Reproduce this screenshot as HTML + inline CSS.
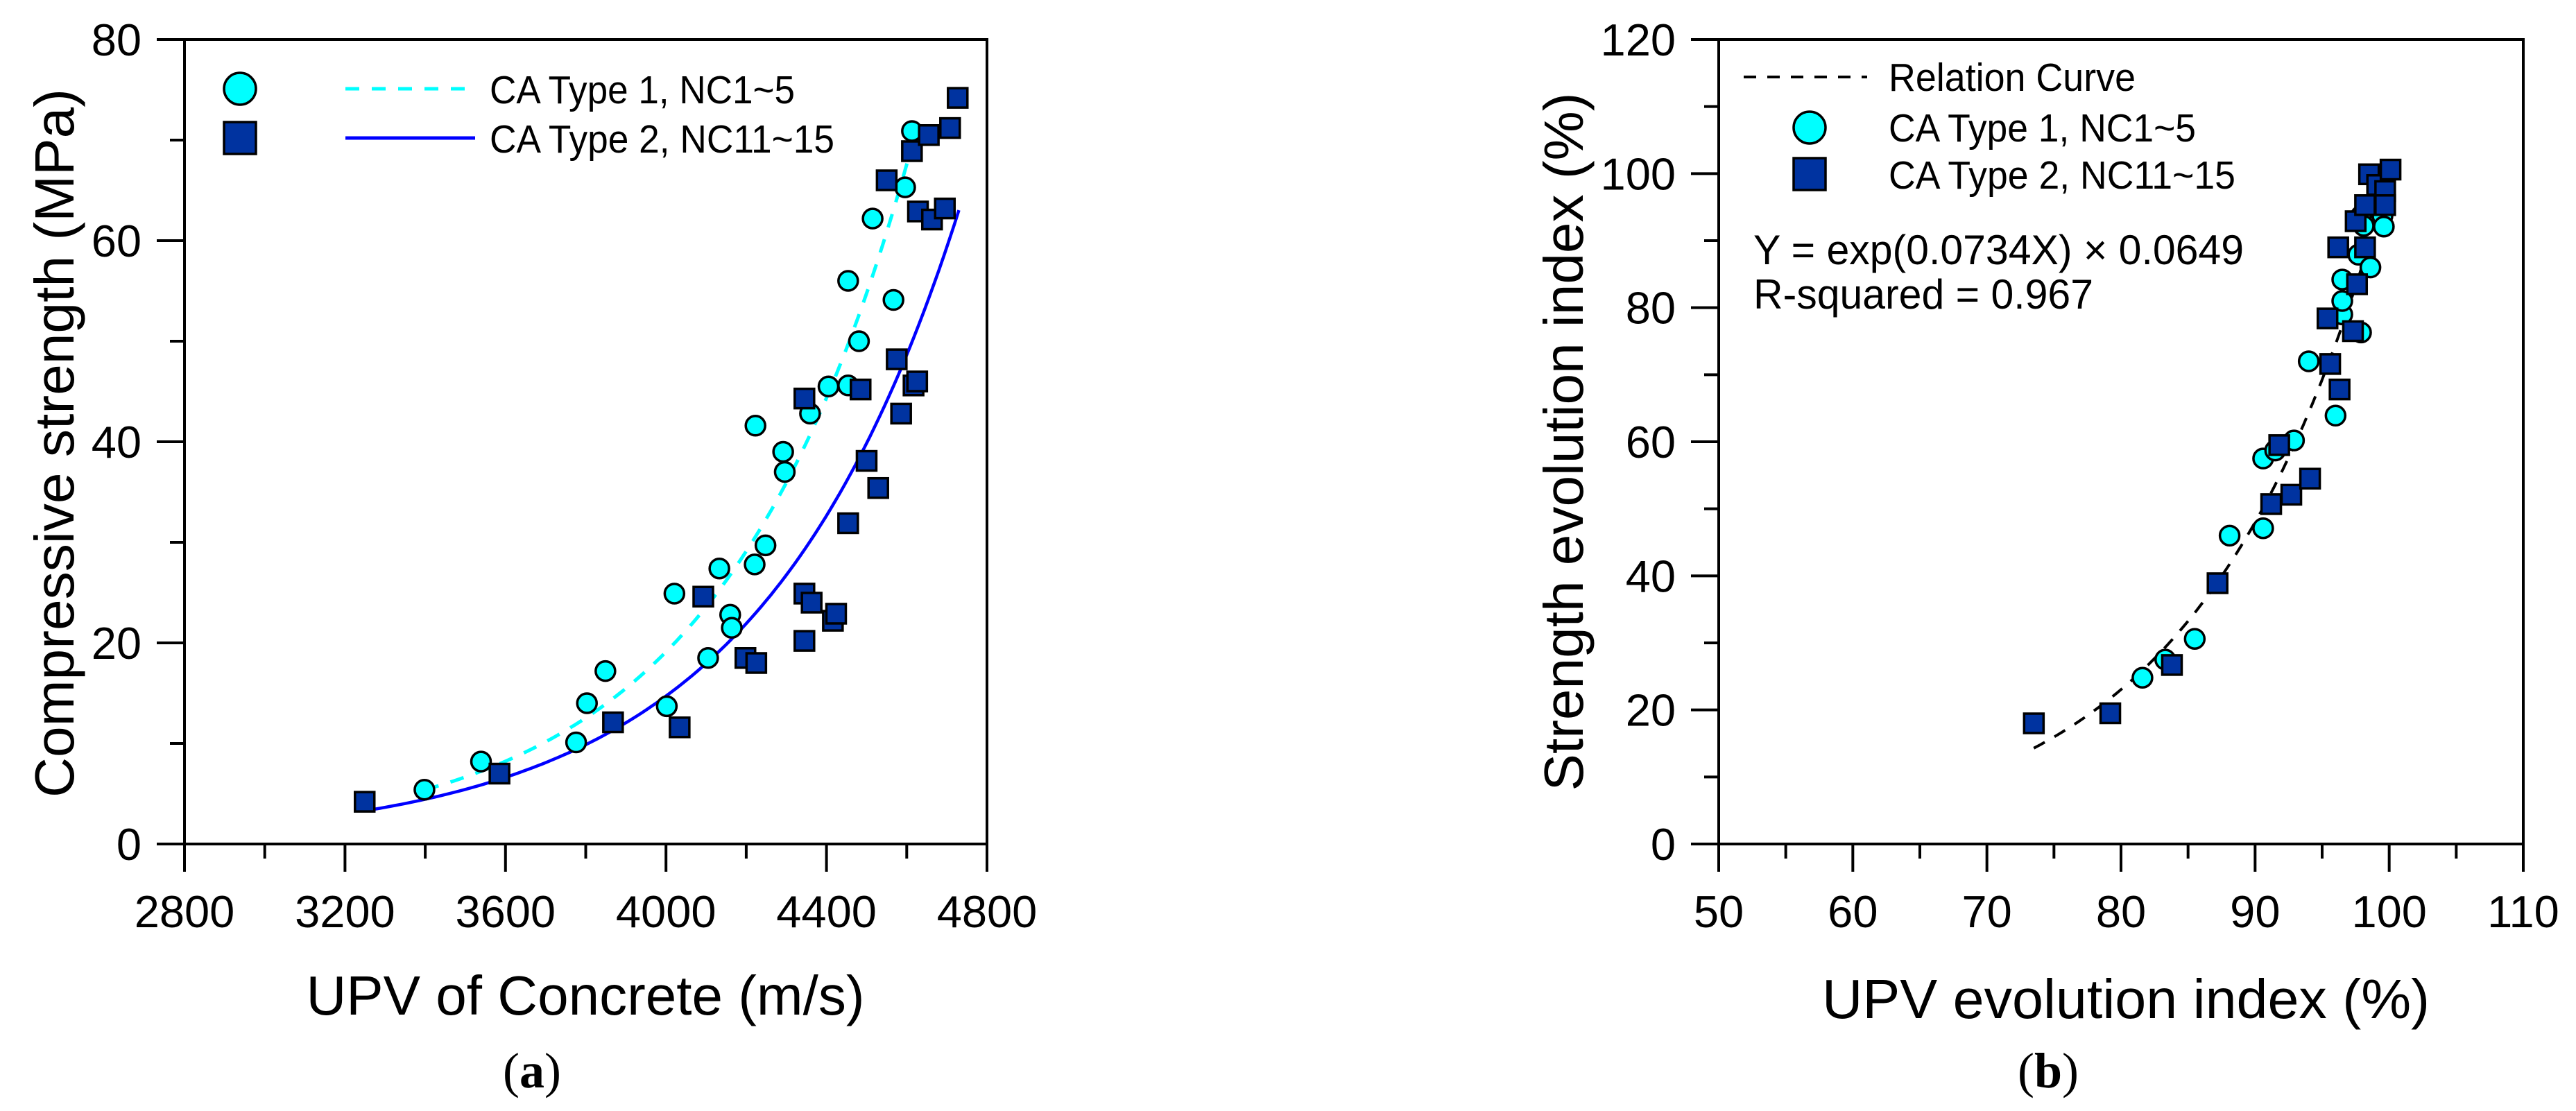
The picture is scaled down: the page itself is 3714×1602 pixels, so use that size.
<!DOCTYPE html>
<html><head><meta charset="utf-8"><style>
html,body{margin:0;padding:0;background:#fff;}
svg{display:block;font-family:"Liberation Sans",sans-serif;}
</style></head><body>
<svg id="fig" width="3714" height="1602" viewBox="0 0 3714 1602" xmlns="http://www.w3.org/2000/svg">
<g id="pa"></g>
<g id="pb"></g>
</svg>
<script>
// ---------- Chart (a) data ----------
const aXTicks = [2800, 3200, 3600, 4000, 4400, 4800];
const aYTicks = [0, 20, 40, 60, 80];
const aType1X = [3398,3539,3776,3803,3849,4002,4021,4105,4133,4160,4164,4221,4223,4248,4292,4296,4359,4405,4454,4454,4481,4515,4567,4596,4613];
const aType1Y = [5.4,8.2,10.1,14.0,17.2,13.7,24.9,18.5,27.4,22.8,21.5,27.8,41.6,29.7,39.0,37.0,42.8,45.5,45.6,56.0,50.0,62.2,54.1,65.3,70.9];
const aType2X = [3249,3585,3868,4034,4093,4198,4225,4345,4345,4345,4363,4416,4424,4454,4485,4500,4529,4550,4575,4586,4613,4617,4626,4628,4655,4663,4695,4708,4727];
const aType2Y = [4.2,7.0,12.1,11.6,24.6,18.5,18.0,44.3,24.9,20.2,24.0,22.2,22.9,31.9,45.2,38.1,35.4,66.0,48.2,42.8,68.9,45.6,46.0,62.9,70.5,62.1,63.2,71.2,74.2];
const aFit1 = [5.4, 0.002106, 3400, 4610];
const aFit2 = [3.3, 0.001993, 3250, 4730];
// ---------- Chart (b) data ----------
const bXTicks = [50, 60, 70, 80, 90, 100, 110];
const bYTicks = [0, 20, 40, 60, 80, 100, 120];
const bType1X = [81.6,83.3,85.5,88.1,90.6,90.6,91.5,92.9,94.0,96.0,96.5,96.5,96.5,97.7,97.9,97.9,98.1,98.6,99.5,99.6,100.0];
const bType1Y = [24.8,27.5,30.6,46.0,47.1,57.5,58.7,60.2,72.0,63.9,79.0,81.0,84.2,87.9,76.3,93.7,92.2,86.0,93.7,92.1,100.3];
const bType2X = [73.5,79.2,83.8,87.2,91.2,91.8,92.7,94.1,95.4,95.6,96.2,96.3,97.3,97.6,97.5,98.2,98.2,98.5,99.1,99.7,99.7,100.1];
const bType2Y = [18.0,19.5,26.7,38.9,50.7,59.5,52.1,54.5,78.4,71.6,89.0,67.8,76.5,83.5,92.9,95.3,89.0,99.9,98.3,97.4,95.3,100.6];
const bCurve = [0.0734, 0.0649, 73.5, 100];

const NS = "http://www.w3.org/2000/svg";
function mk(parent, tag, attrs) {
  const e = document.createElementNS(NS, tag);
  for (const k in attrs) e.setAttribute(k, attrs[k]);
  parent.appendChild(e);
  return e;
}
function txt(parent, s, attrs) { const t = mk(parent, "text", attrs); t.textContent = s; return t; }

function drawAxes(g, L, R, T, B, xs, ys, xTicks, yTicks, xMinor, yMinor) {
  const ax = mk(g, "g", {});
  
  
  mk(ax, "rect", {x: L, y: T, width: R - L, height: B - T, fill: "none", stroke: "#000", "stroke-width": 4});
  xTicks.forEach((v, i) => {
    const x = xs(v);
    const l = mk(ax, "line", {x1: x, y1: B, x2: x, y2: B + 40, stroke: "#000", "stroke-width": 4});
    
    
    const t = txt(ax, String(v), {x: x, y: 1337, "font-size": 65, "text-anchor": "middle"});
    
    
    if (i < xTicks.length - 1) {
      const xm = xs(v + xMinor);
      mk(ax, "line", {x1: xm, y1: B, x2: xm, y2: B + 21, stroke: "#000", "stroke-width": 4});
    }
  });
  yTicks.forEach((v, i) => {
    const y = ys(v);
    const l = mk(ax, "line", {x1: L - 40, y1: y, x2: L, y2: y, stroke: "#000", "stroke-width": 4});
    
    
    const t = txt(ax, String(v), {x: L - 62, y: y + 23, "font-size": 65, "text-anchor": "end"});
    
    
    if (i < yTicks.length - 1) {
      const ym = ys(v + yMinor);
      mk(ax, "line", {x1: L - 21, y1: ym, x2: L, y2: ym, stroke: "#000", "stroke-width": 4});
    }
  });
}
function circle(g, x, y, r, name) {
  const c = mk(g, "circle", {cx: x, cy: y, r: r, fill: "#00FFFF", stroke: "#000", "stroke-width": 3.5});
  
  
}
function square(g, x, y, s, name) {
  const c = mk(g, "rect", {x: x - s / 2, y: y - s / 2, width: s, height: s, fill: "#0033A0", stroke: "#000", "stroke-width": 3.5});
  
  
}
function pathFrom(fn, x0, x1, xs, ys) {
  let d = "";
  for (let i = 0; i <= 120; i++) {
    const x = x0 + (x1 - x0) * i / 120;
    d += (i ? "L" : "M") + xs(x).toFixed(1) + "," + ys(fn(x)).toFixed(1);
  }
  return d;
}

// ---------- Chart (a) ----------
(function () {
  const g = document.getElementById("pa");
  const L = 266, R = 1423, T = 57, B = 1217;
  const xs = v => L + (v - 2800) / 2000 * (R - L);
  const ys = v => B - v / 80 * (B - T);
  drawAxes(g, L, R, T, B, xs, ys, aXTicks, aYTicks, 200, 10);
  const c1 = mk(g, "path", {d: pathFrom(x => aFit1[0] * Math.exp(aFit1[1] * (x - aFit1[2])), aFit1[2], aFit1[3], xs, ys), fill: "none", stroke: "#00FFFF", "stroke-width": 5, "stroke-dasharray": "20 18"});
  
  
  const c2 = mk(g, "path", {d: pathFrom(x => aFit2[0] * Math.exp(aFit2[1] * (x - aFit2[2])), aFit2[2], aFit2[3], xs, ys), fill: "none", stroke: "#0000FF", "stroke-width": 4.5});
  
  
  aType1X.forEach((x, i) => circle(g, xs(x), ys(aType1Y[i]), 14, 'point-type1'));
  aType2X.forEach((x, i) => square(g, xs(x), ys(aType2Y[i]), 28, 'point-type2'));
  const lg = mk(g, "g", {});
  
  
  circle(lg, 346, 128, 23, 'legend-marker-type1');
  square(lg, 346, 199, 46, 'legend-marker-type2');
  mk(lg, "line", {x1: 498, y1: 128, x2: 672, y2: 128, stroke: "#00FFFF", "stroke-width": 5, "stroke-dasharray": "20 18"});
  mk(lg, "line", {x1: 498, y1: 199, x2: 685, y2: 199, stroke: "#0000FF", "stroke-width": 5});
  txt(lg, "CA Type 1, NC1~5", {x: 706, y: 149, "font-size": 57, "textLength": 440, "lengthAdjust": "spacingAndGlyphs"});
  txt(lg, "CA Type 2, NC11~15", {x: 706, y: 220, "font-size": 57, "textLength": 497, "lengthAdjust": "spacingAndGlyphs"});
  const yt = txt(g, "Compressive strength (MPa)", {x: 0, y: 0, "font-size": 80, "text-anchor": "middle", transform: "translate(106,639) rotate(-90)", "textLength": 1022, "lengthAdjust": "spacingAndGlyphs"});
  
  
  const xt = txt(g, "UPV of Concrete (m/s)", {x: 844, y: 1463, "font-size": 80, "text-anchor": "middle", "textLength": 805, "lengthAdjust": "spacingAndGlyphs"});
  
  
  const cap = mk(g, "text", {x: 767, y: 1568, "font-size": 72, "text-anchor": "middle", "font-family": "Liberation Serif, serif"});
  cap.innerHTML = '(<tspan font-weight="bold">a</tspan>)';
  
  
})();

// ---------- Chart (b) ----------
(function () {
  const g = document.getElementById("pb");
  const L = 2478, R = 3638, T = 57, B = 1217;
  const xs = v => L + (v - 50) / 60 * (R - L);
  const ys = v => B - v / 120 * (B - T);
  drawAxes(g, L, R, T, B, xs, ys, bXTicks, bYTicks, 5, 10);
  const c = mk(g, "path", {d: pathFrom(x => Math.exp(bCurve[0] * x) * bCurve[1], bCurve[2], bCurve[3], xs, ys), fill: "none", stroke: "#000", "stroke-width": 4, "stroke-dasharray": "18 16"});
  
  
  bType1X.forEach((x, i) => circle(g, xs(x), ys(bType1Y[i]), 14, 'point-type1'));
  bType2X.forEach((x, i) => square(g, xs(x), ys(bType2Y[i]), 28, 'point-type2'));
  const lg = mk(g, "g", {});
  
  
  mk(lg, "line", {x1: 2514, y1: 111, x2: 2692, y2: 111, stroke: "#000", "stroke-width": 4, "stroke-dasharray": "18 16"});
  circle(lg, 2609, 184, 23, 'legend-marker-type1');
  square(lg, 2609, 251, 46, 'legend-marker-type2');
  txt(lg, "Relation Curve", {x: 2723, y: 131, "font-size": 57, "textLength": 356, "lengthAdjust": "spacingAndGlyphs"});
  txt(lg, "CA Type 1, NC1~5", {x: 2723, y: 204, "font-size": 57, "textLength": 443, "lengthAdjust": "spacingAndGlyphs"});
  txt(lg, "CA Type 2, NC11~15", {x: 2723, y: 272, "font-size": 57, "textLength": 500, "lengthAdjust": "spacingAndGlyphs"});
  const eq = txt(g, "Y = exp(0.0734X) × 0.0649", {x: 2528, y: 381, "font-size": 60, "textLength": 707, "lengthAdjust": "spacingAndGlyphs"});
  
  
  const r2 = txt(g, "R-squared = 0.967", {x: 2528, y: 445, "font-size": 60, "textLength": 490, "lengthAdjust": "spacingAndGlyphs"});
  
  
  const yt = txt(g, "Strength evolution index (%)", {x: 0, y: 0, "font-size": 80, "text-anchor": "middle", transform: "translate(2282,637) rotate(-90)", "textLength": 1007, "lengthAdjust": "spacingAndGlyphs"});
  
  
  const xt = txt(g, "UPV evolution index (%)", {x: 3065, y: 1468, "font-size": 80, "text-anchor": "middle", "textLength": 876, "lengthAdjust": "spacingAndGlyphs"});
  
  
  const cap = mk(g, "text", {x: 2953, y: 1568, "font-size": 72, "text-anchor": "middle", "font-family": "Liberation Serif, serif"});
  cap.innerHTML = '(<tspan font-weight="bold">b</tspan>)';
  
  
})();
</script>
</body></html>
